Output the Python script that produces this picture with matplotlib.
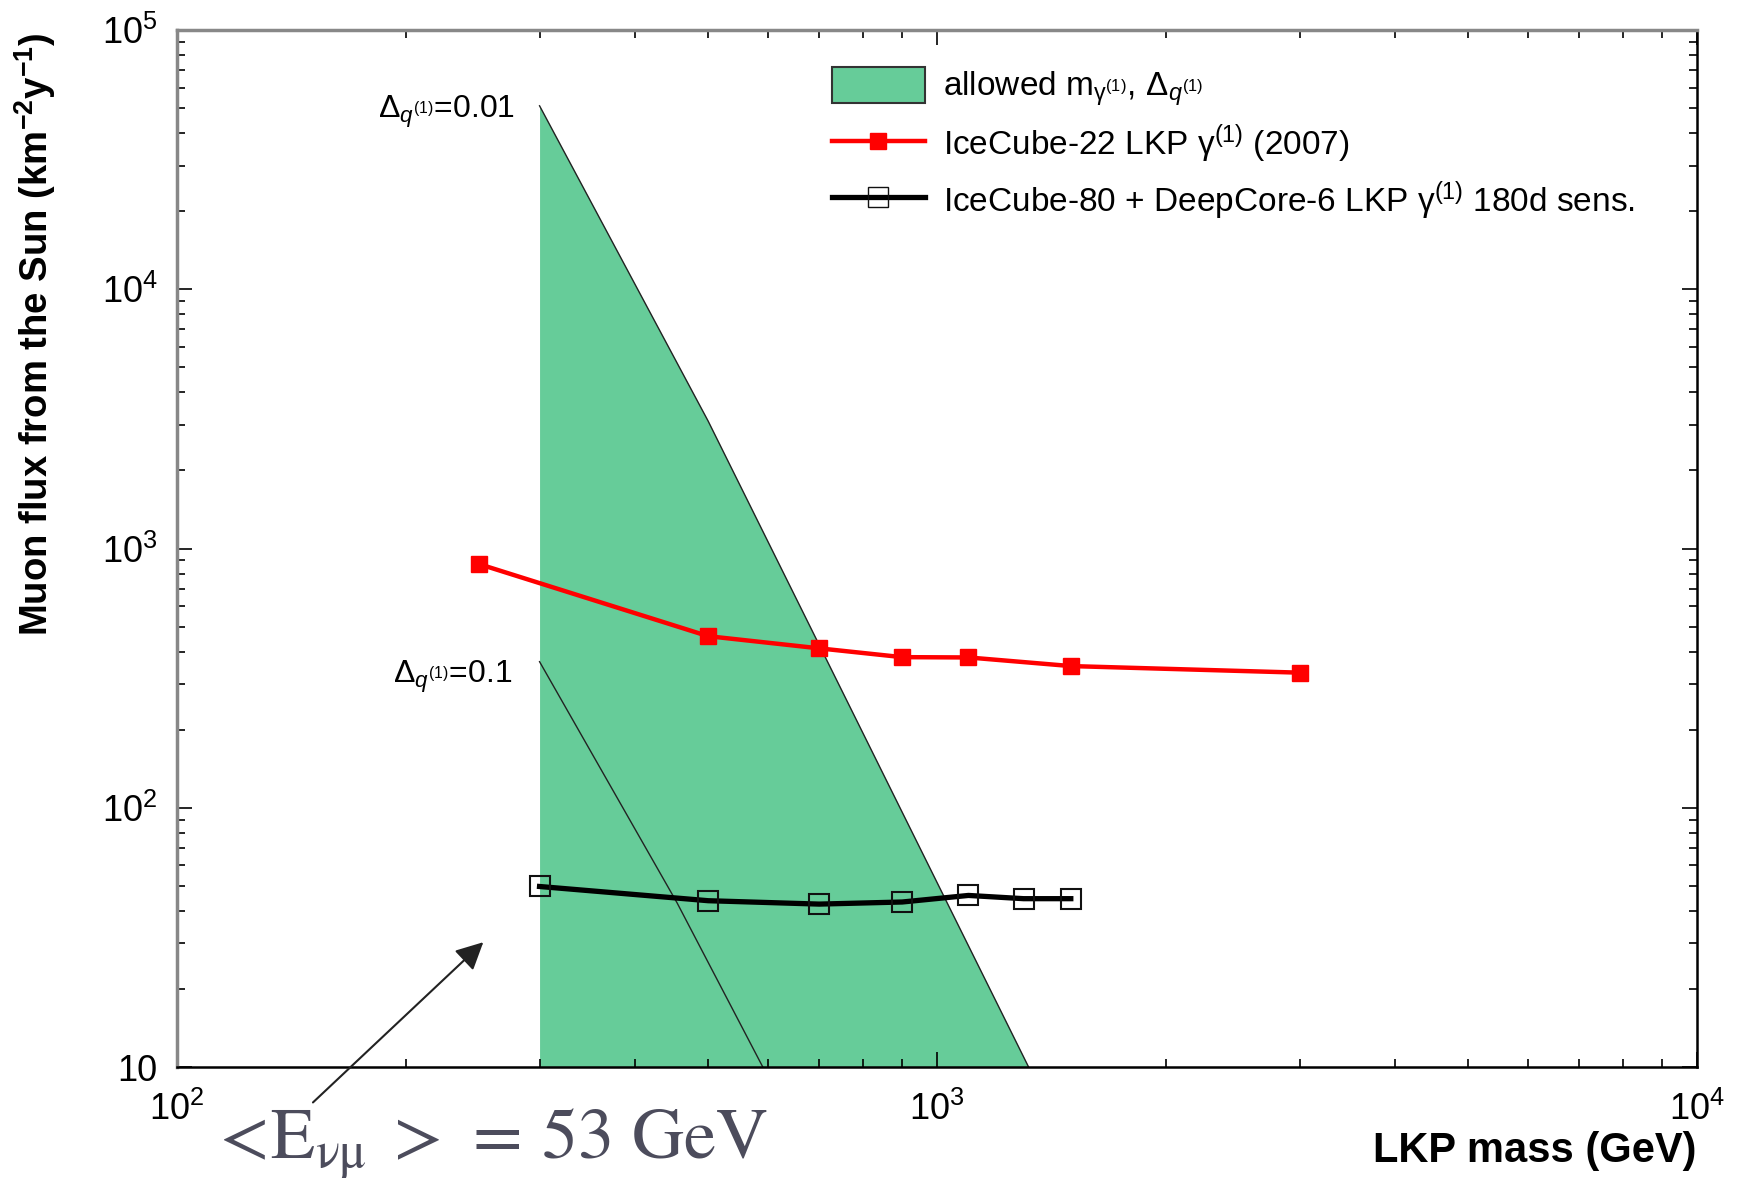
import math
import matplotlib
matplotlib.use("Agg")
import matplotlib.pyplot as plt
from matplotlib.lines import Line2D
from matplotlib.patches import Patch
from matplotlib.ticker import LogLocator, FuncFormatter, NullFormatter

plt.rcParams["font.family"] = ["Liberation Sans", "DejaVu Sans"]
plt.rcParams["mathtext.fontset"] = "custom"
plt.rcParams["mathtext.rm"] = "Liberation Sans"
plt.rcParams["mathtext.it"] = "Liberation Sans:italic"
plt.rcParams["mathtext.bf"] = "Liberation Sans:bold"

# allowed region (Delta = 0.01 upper boundary), LKP mass in GeV
allowed_mass = [300, 500, 1320]
allowed_flux = [51000, 3100, 10]

# Delta = 0.1 line
delta01_mass = [300, 455, 590]
delta01_flux = [366, 43, 10]

# IceCube-22 limit (2007)
ic22_mass = [250, 500, 700, 900, 1100, 1500, 3000]
ic22_flux = [870, 459, 412, 381, 380, 352, 332]

# IceCube-80 + DeepCore-6 sensitivity
ic80_mass = [300, 500, 700, 900, 1100, 1300, 1500]
ic80_flux = [49.7, 43.8, 42.5, 43.3, 45.9, 44.6, 44.6]

GREEN = "#66cc99"


def tick_label(value, pos):
    exp = int(round(math.log10(value)))
    if exp == 1:
        return "10"
    return r"$10^{%d}$" % exp


fig = plt.figure(figsize=(17.38, 11.95), dpi=100)
ax = fig.add_axes([0.1018, 0.1071, 0.8746, 0.8678])

ax.fill_between(allowed_mass, allowed_flux, 10, color=GREEN, linewidth=0, zorder=1)
ax.plot(allowed_mass, allowed_flux, color="#222222", linewidth=1.0, zorder=2)
ax.plot(delta01_mass, delta01_flux, color="#222222", linewidth=1.0, zorder=2)

ax.plot(ic22_mass, ic22_flux, color="red", linewidth=3.2, marker="s",
        markersize=11, markerfacecolor="red", markeredgecolor="red", zorder=4)
ax.plot(ic80_mass, ic80_flux, color="black", linewidth=3.8, marker="s",
        markersize=14, markerfacecolor="none", markeredgecolor="#111111",
        markeredgewidth=1.5, zorder=4)

ax.set_xscale("log")
ax.set_yscale("log")
ax.set_xlim(100, 10000)
ax.set_ylim(10, 100000)

for axis in (ax.xaxis, ax.yaxis):
    axis.set_major_locator(LogLocator(base=10, numticks=10))
    axis.set_minor_locator(LogLocator(base=10, subs=range(2, 10), numticks=10))
    axis.set_major_formatter(FuncFormatter(tick_label))
    axis.set_minor_formatter(NullFormatter())

ax.tick_params(which="both", direction="in", top=True, right=True, width=1.2)
ax.tick_params(which="major", length=11, labelsize=26)
ax.tick_params(which="minor", length=6)
ax.tick_params(axis="y", which="major", pad=14)
ax.tick_params(axis="x", which="major", pad=18)

ax.spines["left"].set_color("#888888")
ax.spines["top"].set_color("#888888")
ax.spines["left"].set_linewidth(2.5)
ax.spines["top"].set_linewidth(2.5)
ax.spines["right"].set_linewidth(1.8)
ax.spines["bottom"].set_linewidth(1.8)

ax.set_xlabel("LKP mass (GeV)", fontsize=30, fontweight="bold", ha="right", va="center")
ax.xaxis.set_label_coords(1.0, -0.081)
ax.set_ylabel(r"Muon flux from the Sun (km$^{\mathbf{-2}}$y$^{\mathbf{-1}}$)",
              fontsize=27.5, fontweight="bold", ha="center", va="center")
ax.yaxis.set_label_coords(-0.0935, 0.707)

ax.text(0.2224, 0.921, r"$\Delta_{q^{(1)}}$=0.01", fontsize=23, ha="right", va="center",
        transform=ax.transAxes)
ax.text(0.2205, 0.376, r"$\Delta_{q^{(1)}}$=0.1", fontsize=23, ha="right", va="center",
        transform=ax.transAxes)

handles = [
    Patch(facecolor=GREEN, edgecolor="#333333", linewidth=1.5),
    Line2D([], [], color="red", linewidth=3.2, marker="s", markersize=11,
           markerfacecolor="red", markeredgecolor="red"),
    Line2D([], [], color="black", linewidth=3.8, marker="s", markersize=14,
           markerfacecolor="none", markeredgecolor="#111111"),
]
labels = [
    r"allowed m$_{\mathrm{\gamma}^{(1)}}$, $\Delta_{q^{(1)}}$",
    r"IceCube-22 LKP $\mathrm{\gamma}^{(1)}$ (2007)",
    r"IceCube-80 + DeepCore-6 LKP $\mathrm{\gamma}^{(1)}$ 180d sens.",
]
ax.legend(handles, labels, loc="upper left", bbox_to_anchor=(0.411, 0.993),
          frameon=False, fontsize=24, handlelength=2.8, handleheight=1.25,
          handletextpad=0.55, labelspacing=0.42)

# arrow and average energy note below the axes
ax.annotate("", xy=(253, 30.3), xytext=(151, 7.3),
            arrowprops=dict(arrowstyle="-|>", color="#222222", lw=1.5,
                            mutation_scale=42, shrinkA=0, shrinkB=0),
            annotation_clip=False)
fig.text(0.1205, 0.031, r"$\mathrm{<\!E_{\nu\mu}\;>\,=\,53\ GeV}$", fontsize=52,
         color="#4c4c5c", math_fontfamily="stix", ha="left", va="baseline")

fig.savefig("out.png", dpi=100)
